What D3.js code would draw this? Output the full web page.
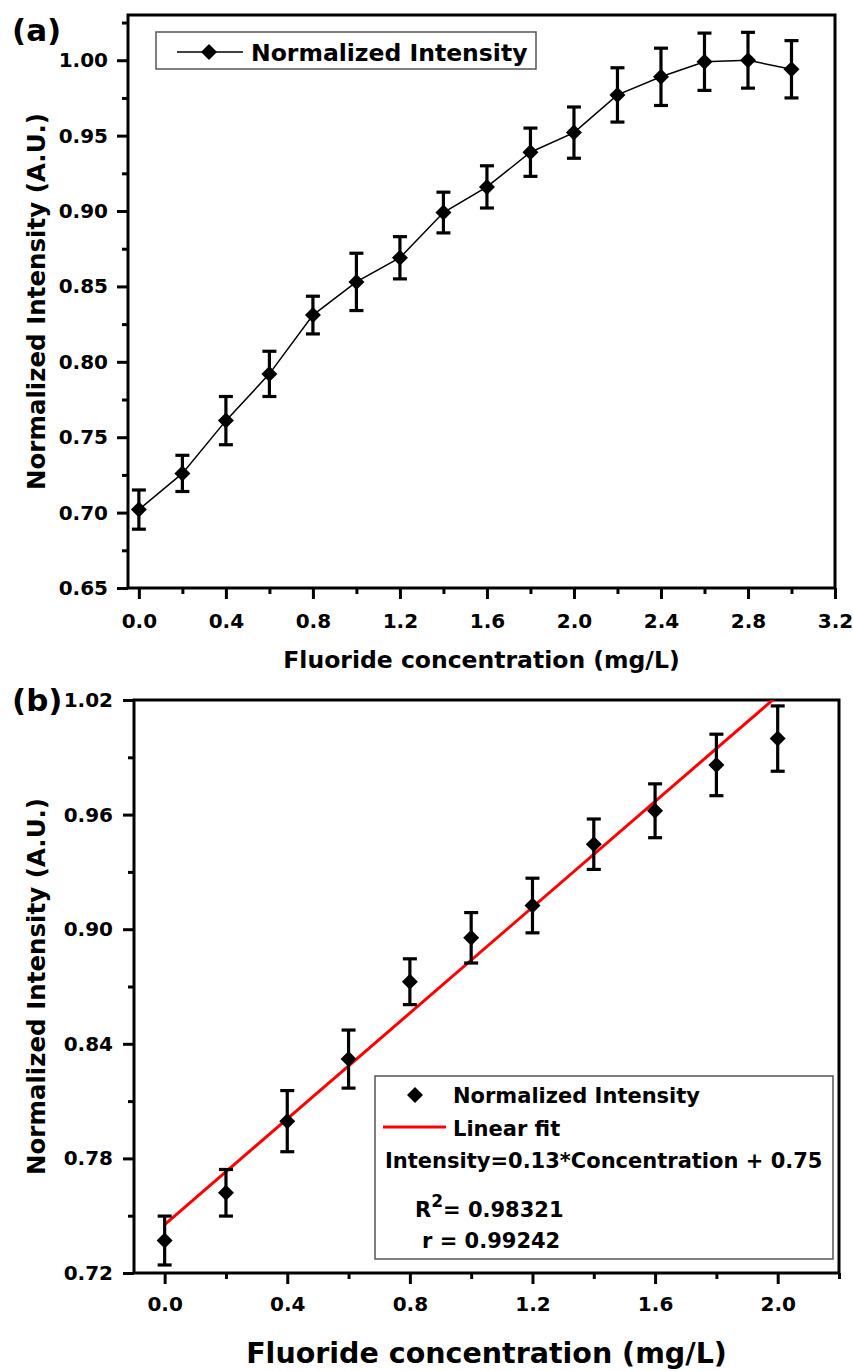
<!DOCTYPE html>
<html lang="en">
<head>
<meta charset="UTF-8">
<title>Fluoride response</title>
<script src="https://d3js.org/d3.v7.min.js"></script>
<style>
  body { margin: 0; background: #fff; }
  text { font-family: "DejaVu Sans", sans-serif; font-weight: bold; fill: #000; }
</style>
</head>
<body>
<div id="chart"></div>
<script>
// ---- data ----
// panel (a)
const concA = [0.0, 0.2, 0.4, 0.6, 0.8, 1.0, 1.2, 1.4, 1.6, 1.8, 2.0, 2.2, 2.4, 2.6, 2.8, 3.0];
const intensityA = [0.702, 0.726, 0.761, 0.792, 0.831, 0.853, 0.869, 0.899, 0.916, 0.939, 0.952, 0.977, 0.989, 0.999, 1.000, 0.994];
const errorA = [0.013, 0.012, 0.016, 0.015, 0.0125, 0.019, 0.014, 0.0135, 0.014, 0.016, 0.017, 0.018, 0.019, 0.019, 0.0185, 0.019];
const xTicksA = [0.0, 0.4, 0.8, 1.2, 1.6, 2.0, 2.4, 2.8, 3.2];
const yTicksA = [0.65, 0.70, 0.75, 0.80, 0.85, 0.90, 0.95, 1.00];

// panel (b)
const concB = [0.0, 0.2, 0.4, 0.6, 0.8, 1.0, 1.2, 1.4, 1.6, 1.8, 2.0];
const intensityB = [0.737, 0.762, 0.7995, 0.832, 0.8725, 0.8955, 0.9124, 0.9445, 0.962, 0.986, 0.9998];
const errorB = [0.0128, 0.0122, 0.016, 0.0152, 0.012, 0.0132, 0.0143, 0.0132, 0.0141, 0.0161, 0.0171];
const xTicksB = [0.0, 0.4, 0.8, 1.2, 1.6, 2.0];
const yTicksB = [0.72, 0.78, 0.84, 0.90, 0.96, 1.02];
// drawn fit line (as plotted)
const fitSlope = 0.1385;
const fitIntercept = 0.7453;
const fitRange = [0.0, 2.0];

const width = 853, height = 1371;

const svg = d3.select("#chart").append("svg")
    .attr("width", width)
    .attr("height", height);

svg.append("rect").attr("width", width).attr("height", height).attr("fill", "#fff");

const diamond = d3.symbol().type(d3.symbolSquare).size(128);

function drawPanel(p) {
    const g = svg.append("g");
    const x = d3.scaleLinear().domain(p.xDomain).range([p.left, p.right]);
    const y = d3.scaleLinear().domain(p.yDomain).range([p.bottom, p.top]);

    // clip for plot area
    g.append("clipPath").attr("id", "clip-" + p.id)
        .append("rect")
        .attr("x", p.left).attr("y", p.top)
        .attr("width", p.right - p.left).attr("height", p.bottom - p.top);

    // minor ticks
    const minorX = d3.range(p.xMinor[0], p.xMinor[1] + 1e-9, p.xMinor[2]);
    const minorY = d3.range(p.yMinor[0], p.yMinor[1] + 1e-9, p.yMinor[2]);
    g.append("g")
        .attr("transform", `translate(0,${p.bottom})`)
        .call(d3.axisBottom(x).tickValues(minorX).tickSize(6).tickSizeOuter(0).tickFormat(""))
        .call(s => s.select(".domain").remove())
        .call(s => s.selectAll("line").attr("stroke-width", 3));
    g.append("g")
        .attr("transform", `translate(${p.left},0)`)
        .call(d3.axisLeft(y).tickValues(minorY).tickSize(6).tickSizeOuter(0).tickFormat(""))
        .call(s => s.select(".domain").remove())
        .call(s => s.selectAll("line").attr("stroke-width", 3));

    // major ticks
    g.append("g")
        .attr("transform", `translate(0,${p.bottom})`)
        .call(d3.axisBottom(x).tickValues(p.xTicks).tickSize(11).tickPadding(p.xPad).tickSizeOuter(0).tickFormat(d3.format(".1f")))
        .call(s => s.select(".domain").remove())
        .call(s => s.selectAll("line").attr("stroke-width", 3))
        .call(s => s.selectAll("text").style("font-size", p.xTickFont + "px").attr("fill", "#000"));
    g.append("g")
        .attr("transform", `translate(${p.left},0)`)
        .call(d3.axisLeft(y).tickValues(p.yTicks).tickSize(11).tickPadding(p.yPad).tickSizeOuter(0).tickFormat(d3.format(".2f")))
        .call(s => s.select(".domain").remove())
        .call(s => s.selectAll("line").attr("stroke-width", 3))
        .call(s => s.selectAll("text").style("font-size", "20px").attr("fill", "#000"));

    // frame
    g.append("rect")
        .attr("x", p.left).attr("y", p.top)
        .attr("width", p.right - p.left).attr("height", p.bottom - p.top)
        .attr("fill", "none").attr("stroke", "#000").attr("stroke-width", 3);

    const plot = g.append("g").attr("clip-path", `url(#clip-${p.id})`);
    const pts = p.xs.map((v, i) => ({ x: v, y: p.ys[i], e: p.es[i] }));

    if (p.connect) {
        plot.append("path")
            .datum(pts)
            .attr("fill", "none").attr("stroke", "#000").attr("stroke-width", 1.5)
            .attr("d", d3.line().x(d => x(d.x)).y(d => y(d.y)));
    }
    if (p.fit) {
        plot.append("path")
            .datum(p.fit.range.map(v => ({ x: v, y: p.fit.slope * v + p.fit.intercept })))
            .attr("fill", "none").attr("stroke", "#ff0000").attr("stroke-width", 3)
            .attr("d", d3.line().x(d => x(d.x)).y(d => y(d.y)));
    }

    // error bars
    const eb = g.append("g").attr("stroke", "#000").attr("stroke-width", 3.2);
    eb.selectAll(".v").data(pts).join("line")
        .attr("x1", d => x(d.x)).attr("x2", d => x(d.x))
        .attr("y1", d => y(d.y - d.e)).attr("y2", d => y(d.y + d.e));
    eb.selectAll(".t").data(pts).join("line")
        .attr("x1", d => x(d.x) - 7).attr("x2", d => x(d.x) + 7)
        .attr("y1", d => y(d.y + d.e)).attr("y2", d => y(d.y + d.e));
    eb.selectAll(".b").data(pts).join("line")
        .attr("x1", d => x(d.x) - 7).attr("x2", d => x(d.x) + 7)
        .attr("y1", d => y(d.y - d.e)).attr("y2", d => y(d.y - d.e));

    // markers
    g.append("g").selectAll("path").data(pts).join("path")
        .attr("d", diamond)
        .attr("transform", d => `translate(${x(d.x)},${y(d.y)}) rotate(45)`)
        .attr("fill", "#000");

    // axis titles
    g.append("text")
        .attr("x", (p.left + p.right) / 2).attr("y", p.xTitleY)
        .attr("text-anchor", "middle")
        .style("font-size", p.xTitleFont + "px")
        .text("Fluoride concentration (mg/L)");
    g.append("text")
        .attr("transform", `translate(45,${(p.top + p.bottom) / 2}) rotate(-90)`)
        .attr("text-anchor", "middle")
        .style("font-size", "24.5px")
        .text("Normalized Intensity (A.U.)");

    // panel label
    g.append("text")
        .attr("x", p.labelX).attr("y", p.labelY)
        .style("font-size", "31px")
        .text(p.label);

    return { g, x, y };
}

// ---- panel (a) ----
const A = drawPanel({
    id: "a", label: "(a)", labelX: 12, labelY: 41,
    left: 128, right: 835, top: 15, bottom: 588,
    xDomain: [-0.05, 3.2], yDomain: [0.65, 1.03],
    xTicks: xTicksA, yTicks: yTicksA,
    xMinor: [0.2, 3.0, 0.4], yMinor: [0.675, 1.025, 0.05],
    xPad: 15, yPad: 9, xTickFont: 20,
    xs: concA, ys: intensityA, es: errorA,
    connect: true,
    xTitleY: 668, xTitleFont: 23.5
});

// legend (a)
const legA = A.g.append("g");
legA.append("rect").attr("x", 156).attr("y", 32).attr("width", 380).attr("height", 37)
    .attr("fill", "#fff").attr("stroke", "#555").attr("stroke-width", 1.5);
legA.append("line").attr("x1", 177).attr("x2", 243).attr("y1", 52).attr("y2", 52)
    .attr("stroke", "#000").attr("stroke-width", 1.5);
legA.append("path").attr("d", diamond).attr("transform", "translate(209,52) rotate(45)").attr("fill", "#000");
legA.append("text").attr("x", 251).attr("y", 61).style("font-size", "23.5px").text("Normalized Intensity");

// ---- panel (b) ----
const B = drawPanel({
    id: "b", label: "(b)", labelX: 12, labelY: 711,
    left: 134, right: 839, top: 700, bottom: 1273,
    xDomain: [-0.1, 2.2], yDomain: [0.72, 1.02],
    xTicks: xTicksB, yTicks: yTicksB,
    xMinor: [0.2, 2.2, 0.4], yMinor: [0.75, 0.99, 0.06],
    xPad: 13, yPad: 10, xTickFont: 20,
    xs: concB, ys: intensityB, es: errorB,
    connect: false,
    fit: { slope: fitSlope, intercept: fitIntercept, range: fitRange },
    xTitleY: 1363, xTitleFont: 28.5
});

// legend (b)
const legB = B.g.append("g");
legB.append("rect").attr("x", 375).attr("y", 1076).attr("width", 458).attr("height", 183)
    .attr("fill", "#fff").attr("stroke", "#555").attr("stroke-width", 1.5);
legB.append("path").attr("d", diamond).attr("transform", "translate(415,1095) rotate(45)").attr("fill", "#000");
legB.append("text").attr("x", 453).attr("y", 1103).style("font-size", "21px").text("Normalized Intensity");
legB.append("line").attr("x1", 383).attr("x2", 446).attr("y1", 1127).attr("y2", 1127)
    .attr("stroke", "#ff0000").attr("stroke-width", 3);
legB.append("text").attr("x", 453).attr("y", 1136).style("font-size", "21px").text("Linear fit");
legB.append("text").attr("x", 385).attr("y", 1168).style("font-size", "21px")
    .text("Intensity=0.13*Concentration + 0.75");
const r2 = legB.append("text").attr("x", 415).attr("y", 1217).style("font-size", "21px");
r2.append("tspan").text("R");
r2.append("tspan").attr("dy", -10).style("font-size", "17px").text("2");
r2.append("tspan").attr("dy", 10).text("= 0.98321");
legB.append("text").attr("x", 422).attr("y", 1248).style("font-size", "21px").text("r = 0.99242");
</script>
</body>
</html>
